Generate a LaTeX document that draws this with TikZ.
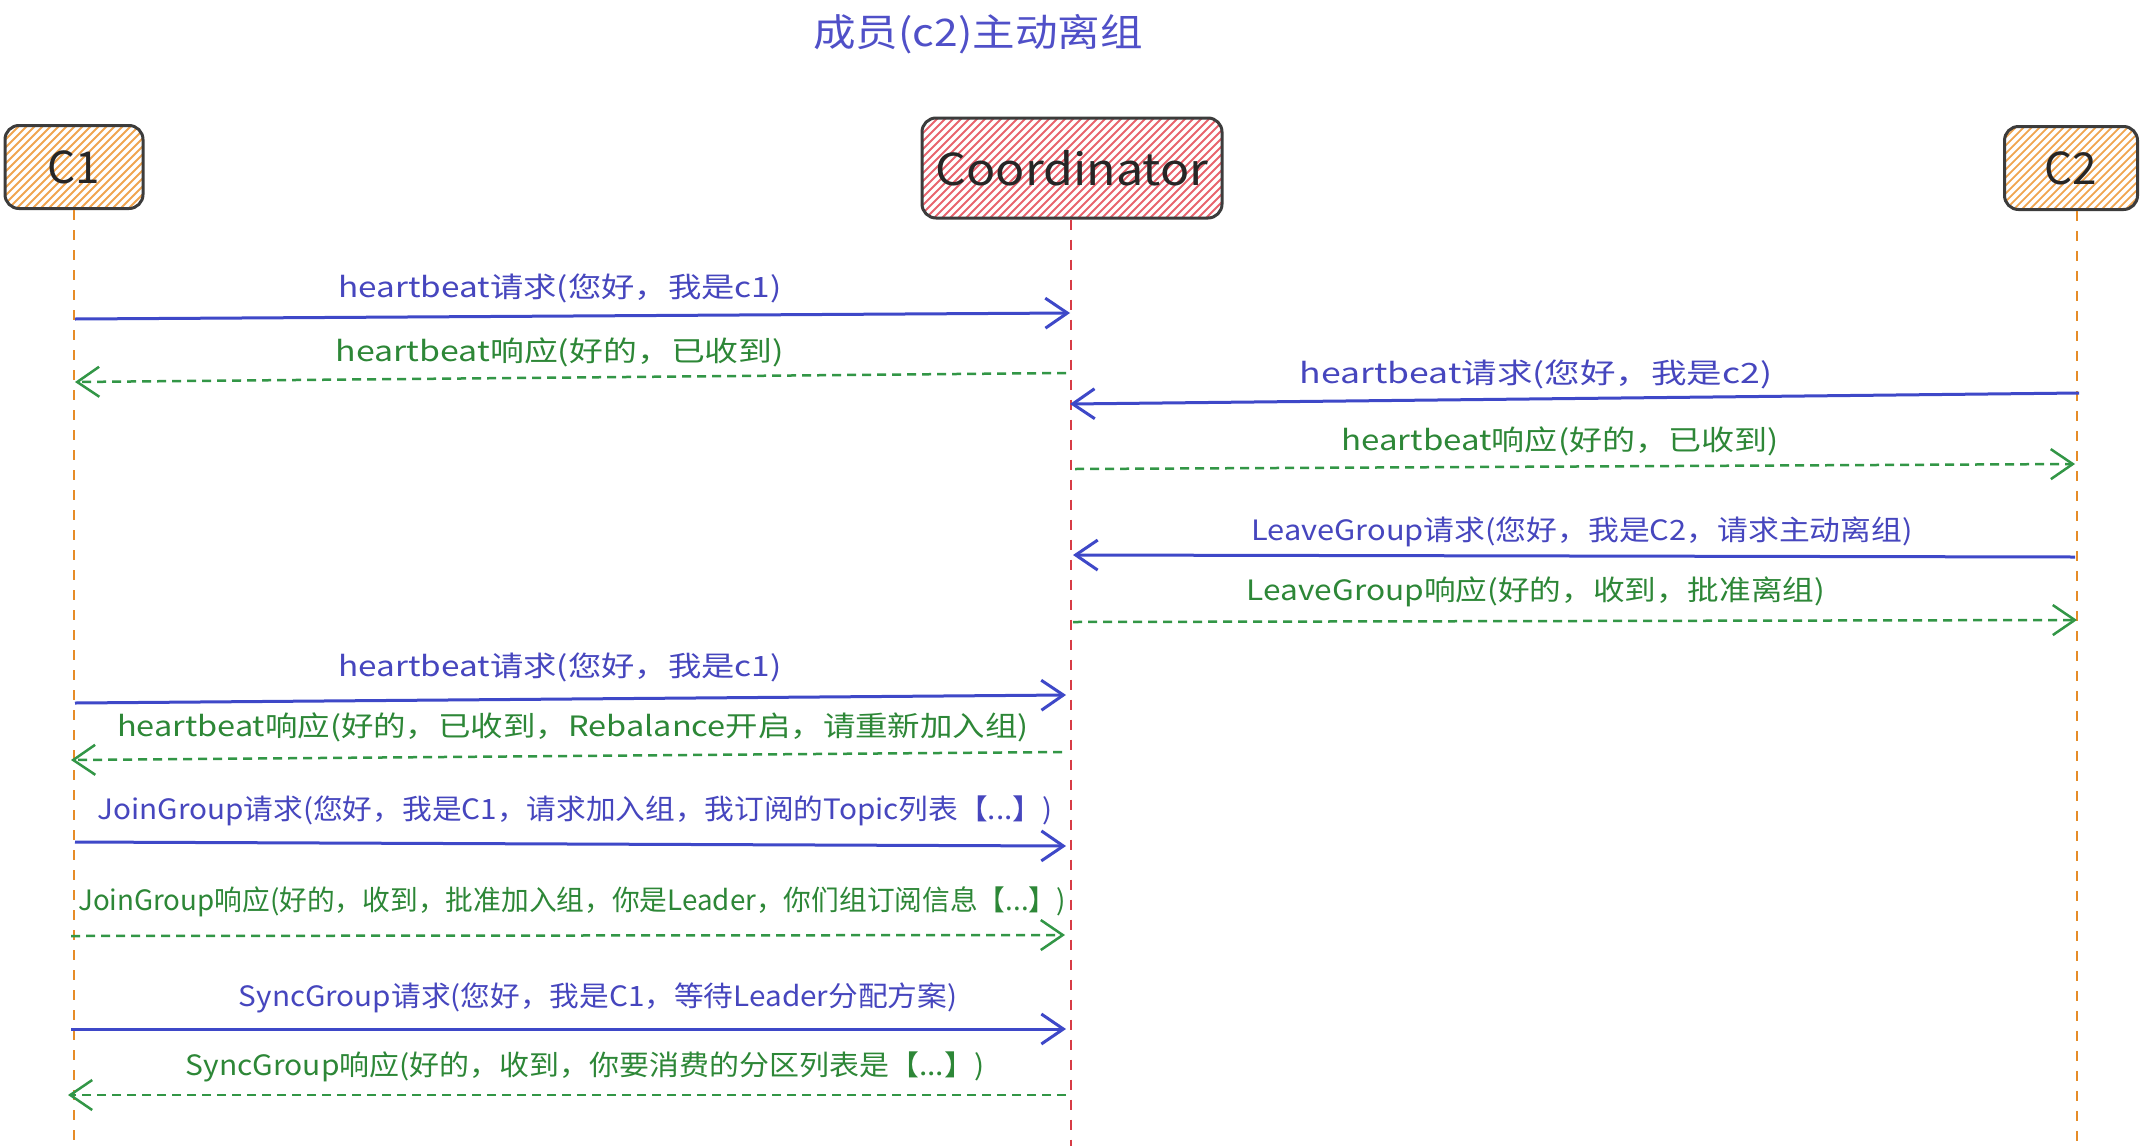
\documentclass[tikz,border=0pt]{standalone}
\usepackage{fontspec}
\newfontfamily\cjk{Noto Sans CJK SC}
\usetikzlibrary{arrows.meta}
\definecolor{tblue}{RGB}{80,80,200}
\definecolor{lblue}{RGB}{62,72,200}
\definecolor{txblue}{RGB}{70,70,190}
\definecolor{lgreen}{RGB}{50,150,70}
\definecolor{txgreen}{RGB}{45,135,55}
\definecolor{hatchor}{RGB}{240,165,80}
\definecolor{hatchred}{RGB}{232,100,110}
\definecolor{lifeor}{RGB}{230,140,40}
\definecolor{lifered}{RGB}{215,60,70}
\definecolor{boxgray}{RGB}{60,60,60}
\begin{document}
\begin{tikzpicture}[x=1pt,y=-1pt,
  actor/.style={draw=boxgray, line width=3pt, rounded corners=14pt, inner sep=0pt,
    font=\cjk\fontsize{44}{48}\selectfont, text=black!85,
    path picture={\foreach \k in {-32,...,32}{\draw[#1, line width=1.8pt, sharp corners]
      ([xshift={\k*8pt}]path picture bounding box.center) ++(-110pt,-110pt) -- ++(220pt,220pt);}}},
  life/.style={draw=#1, line width=2.5pt, dash pattern=on 10pt off 10pt},
  req/.style={draw=lblue, line width=3pt, -{Straight Barb[length=22pt,width=30pt]}},
  resp/.style={draw=lgreen, line width=2.5pt, dash pattern=on 9pt off 6pt, -{Straight Barb[length=22pt,width=30pt]}},
  lblb/.style={font=\cjk\fontsize{28}{32}\selectfont, text=txblue, inner sep=0pt},
  lblg/.style={font=\cjk\fontsize{28}{32}\selectfont, text=txgreen, inner sep=0pt}
]
\useasboundingbox (0,0) rectangle (2140,1146);
\fill[white] (0,0) rectangle (2140,1146);

\node[font=\cjk\fontsize{38}{42}\selectfont, text=tblue] (title) at (978,34) {\scalebox{1.12}[1]{成员(c2)主动离组}};

\node[actor=hatchor, minimum width=138pt, minimum height=83pt] (c1) at (74,167) {C1};
\node[actor=hatchred, minimum width=300pt, minimum height=100pt] (co) at (1072,168) {\scalebox{1.1}[1]{Coordinator}};
\node[actor=hatchor, minimum width=133pt, minimum height=83pt] (c2) at (2071,168) {C2};

\coordinate (c1end) at (74,1146);
\coordinate (coend) at (1071,1146);
\coordinate (c2end) at (2077,1146);
\draw[life=lifeor] (c1.south -| c1end) -- (c1end);
\draw[life=lifered] (co.south -| coend) -- (coend);
\draw[life=lifeor] (c2.south -| c2end) -- (c2end);

% message endpoints
\coordinate (m1a) at (75,319);   \coordinate (m1b) at (1070,313);
\coordinate (m2a) at (1066,373); \coordinate (m2b) at (75,382);
\coordinate (m3a) at (2079,393); \coordinate (m3b) at (1070,404);
\coordinate (m4a) at (1075,469); \coordinate (m4b) at (2075,464);
\coordinate (m5a) at (2075,557); \coordinate (m5b) at (1073,555);
\coordinate (m6a) at (1073,622); \coordinate (m6b) at (2077,620);
\coordinate (m7a) at (75,703);   \coordinate (m7b) at (1066,695);
\coordinate (m8a) at (1062,752); \coordinate (m8b) at (71,760);
\coordinate (m9a) at (75,842);   \coordinate (m9b) at (1066,846);
\coordinate (m10a) at (71,936);  \coordinate (m10b) at (1065,935);
\coordinate (m11a) at (71,1029); \coordinate (m11b) at (1066,1029);
\coordinate (m12a) at (1066,1095); \coordinate (m12b) at (68,1095);

\draw[req] (m1a) -- (m1b);
\draw[resp] (m2a) -- (m2b);
\draw[req] (m3a) -- (m3b);
\draw[resp] (m4a) -- (m4b);
\draw[req] (m5a) -- (m5b);
\draw[resp] (m6a) -- (m6b);
\draw[req] (m7a) -- (m7b);
\draw[resp] (m8a) -- (m8b);
\draw[req] (m9a) -- (m9b);
\draw[resp] (m10a) -- (m10b);
\draw[req] (m11a) -- (m11b);
\draw[resp] (m12a) -- (m12b);

\node[lblb] (l1) at (560,288) {\scalebox{1.19}[1]{heartbeat请求(您好，我是c1)}};
\node[lblg] (l2) at (560,352) {\scalebox{1.21}[1]{heartbeat响应(好的，已收到)}};
\node[lblb] (l3) at (1536,374) {\scalebox{1.27}[1]{heartbeat请求(您好，我是c2)}};
\node[lblg] (l4) at (1560,441) {\scalebox{1.18}[1]{heartbeat响应(好的，已收到)}};
\node[lblb] (l5) at (1582,532) {\scalebox{1.10}[1]{LeaveGroup请求(您好，我是C2，请求主动离组)}};
\node[lblg] (l6) at (1536,592) {\scalebox{1.13}[1]{LeaveGroup响应(好的，收到，批准离组)}};
\node[lblb] (l7) at (560,667) {\scalebox{1.19}[1]{heartbeat请求(您好，我是c1)}};
\node[lblg] (l8) at (573,727) {\scalebox{1.16}[1]{heartbeat响应(好的，已收到，Rebalance开启，请重新加入组)}};
\node[lblb] (l9) at (575,811) {\scalebox{1.06}[1]{JoinGroup请求(您好，我是C1，请求加入组，我订阅的Topic列表【...】)}};
\node[lblg] (l10) at (572,902) {\scalebox{0.99}[1]{JoinGroup响应(好的，收到，批准加入组，你是Leader，你们组订阅信息【...】)}};
\node[lblb] (l11) at (598,998) {\scalebox{1.06}[1]{SyncGroup请求(您好，我是C1，等待Leader分配方案)}};
\node[lblg] (l12) at (585,1067) {\scalebox{1.07}[1]{SyncGroup响应(好的，收到，你要消费的分区列表是【...】)}};
\end{tikzpicture}
\end{document}
